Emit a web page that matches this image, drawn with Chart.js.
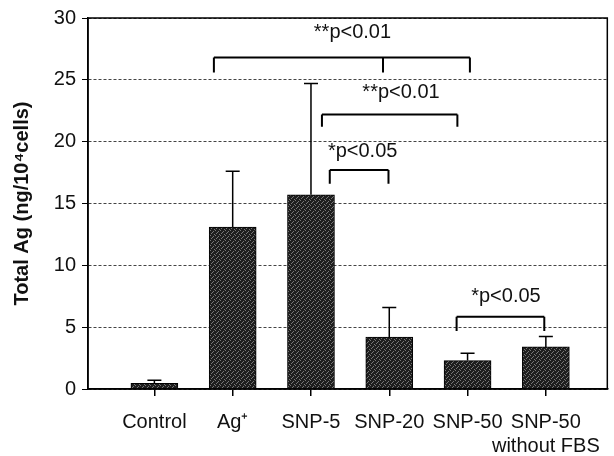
<!DOCTYPE html>
<html><head><meta charset="utf-8">
<script src="https://cdn.jsdelivr.net/npm/chart.js@4"></script>
<style>html,body{margin:0;padding:0;background:#fff}#wrap{width:614px;height:456px}</style>
</head><body><div id="wrap"><canvas id="c" width="614" height="456"></canvas></div>
<script>
// ---- data ----
const categories = ['Control', 'Ag\u207A', 'SNP-5', 'SNP-20', 'SNP-50', ['SNP-50', 'without FBS']];
const positions = [1, 2, 3, 4, 5, 6];
const means = [0.45, 13.1, 15.7, 4.2, 2.3, 3.4];
const errors = [0.25, 4.5, 9.0, 2.4, 0.6, 0.85];
const yTicks = [0, 5, 10, 15, 20, 25, 30];
// significance brackets (data units)
const bracketLabels = ['**p<0.01', '**p<0.01', '*p<0.05', '*p<0.05'];
const bracketLegsX = [[1.76, 3.92, 5.03], [3.14, 4.87], [3.24, 3.99], [4.86, 5.98]];
const bracketTopY = [26.8, 22.2, 17.7, 5.85];
const bracketFootY = [25.6, 21.2, 16.6, 4.7];
const labelX = [3.53, 4.15, 3.66, 5.49];
const labelY = [28.8, 24.0, 19.2, 7.5];

const FONT = "'Liberation Sans', Arial, sans-serif";

// stipple pattern for bars (fixed, not random)
function makePattern() {
  const p = document.createElement('canvas');
  p.width = 5; p.height = 5;
  const g = p.getContext('2d');
  g.fillStyle = '#1e1e1e'; g.fillRect(0, 0, 5, 5);
  g.fillStyle = '#777';
  [[0,0],[3,1],[1,3],[4,4],[2,2]].forEach(([a,b]) => g.fillRect(a, b, 1, 1));
  return g.createPattern(p, 'repeat');
}

const overlay = {
  id: 'overlay',
  afterDatasetsDraw(chart) {
    const ctx = chart.ctx, xs = chart.scales.x, ys = chart.scales.y, a = chart.chartArea;
    ctx.save();
    // frame
    ctx.strokeStyle = '#000'; ctx.lineWidth = 1.5;
    ctx.strokeRect(a.left, a.top, a.right - a.left, a.bottom - a.top);
    // error bars
    ctx.lineWidth = 1.5;
    positions.forEach((p, i) => {
      const x = xs.getPixelForValue(p);
      const y0 = ys.getPixelForValue(means[i]);
      const y1 = ys.getPixelForValue(means[i] + errors[i]);
      ctx.beginPath();
      ctx.moveTo(x, y0); ctx.lineTo(x, y1);
      ctx.moveTo(x - 7, y1); ctx.lineTo(x + 7, y1);
      ctx.stroke();
    });
    // brackets
    ctx.lineWidth = 2;
    bracketLegsX.forEach((legs, i) => {
      const yt = ys.getPixelForValue(bracketTopY[i]);
      const yf = ys.getPixelForValue(bracketFootY[i]);
      ctx.beginPath();
      ctx.moveTo(xs.getPixelForValue(legs[0]), yt);
      ctx.lineTo(xs.getPixelForValue(legs[legs.length - 1]), yt);
      legs.forEach(l => {
        const x = xs.getPixelForValue(l);
        ctx.moveTo(x, yt); ctx.lineTo(x, yf);
      });
      ctx.stroke();
      ctx.fillStyle = '#111';
      ctx.font = '20px ' + FONT;
      ctx.textAlign = 'center'; ctx.textBaseline = 'middle';
      ctx.fillText(bracketLabels[i], xs.getPixelForValue(labelX[i]), ys.getPixelForValue(labelY[i]));
    });
    ctx.restore();
  }
};

new Chart(document.getElementById('c'), {
  type: 'bar',
  data: {
    datasets: [{
      data: positions.map((p, i) => ({ x: p, y: means[i] })),
      backgroundColor: makePattern(),
      borderColor: '#000',
      borderWidth: 1,
      barThickness: 47
    }]
  },
  options: {
    responsive: false,
    animation: false,
    devicePixelRatio: 1,
    layout: { padding: { top: 10, right: 2, left: 0, bottom: 0 } },
    plugins: { legend: { display: false }, tooltip: { enabled: false } },
    scales: {
      x: {
        type: 'linear',
        offset: false,
        min: 0.152, max: 6.785,
        afterBuildTicks: s => { s.ticks = positions.map(v => ({ value: v })); },
        afterFit: s => { s.height = 67; },
        ticks: {
          autoSkip: false, maxRotation: 0, minRotation: 0,
          callback: (v, i) => categories[i],
          font: { family: FONT, size: 20, lineHeight: 1.2 },
          color: '#111', padding: 14
        },
        grid: { offset: false, drawOnChartArea: false, drawTicks: true, tickLength: 7, color: '#000', lineWidth: 1.5 },
        border: { display: true, color: '#000', width: 1.5 }
      },
      y: {
        min: 0, max: 30,
        afterBuildTicks: s => { s.ticks = yTicks.map(v => ({ value: v })); },
        afterFit: s => { s.width = 88; },
        ticks: { font: { family: FONT, size: 20 }, color: '#111', padding: 6 },
        grid: { color: '#444', lineWidth: 1, tickBorderDash: [], tickLength: 6, tickColor: '#000' },
        border: { display: true, color: '#000', width: 1.5, dash: [3, 2] },
        title: { display: true, text: 'Total Ag (ng/10\u2074cells)', font: { family: FONT, size: 20, weight: 'bold' }, color: '#111', padding: { top: 10, bottom: 0 } }
      }
    }
  },
  plugins: [overlay]
});
</script>
</body></html>
